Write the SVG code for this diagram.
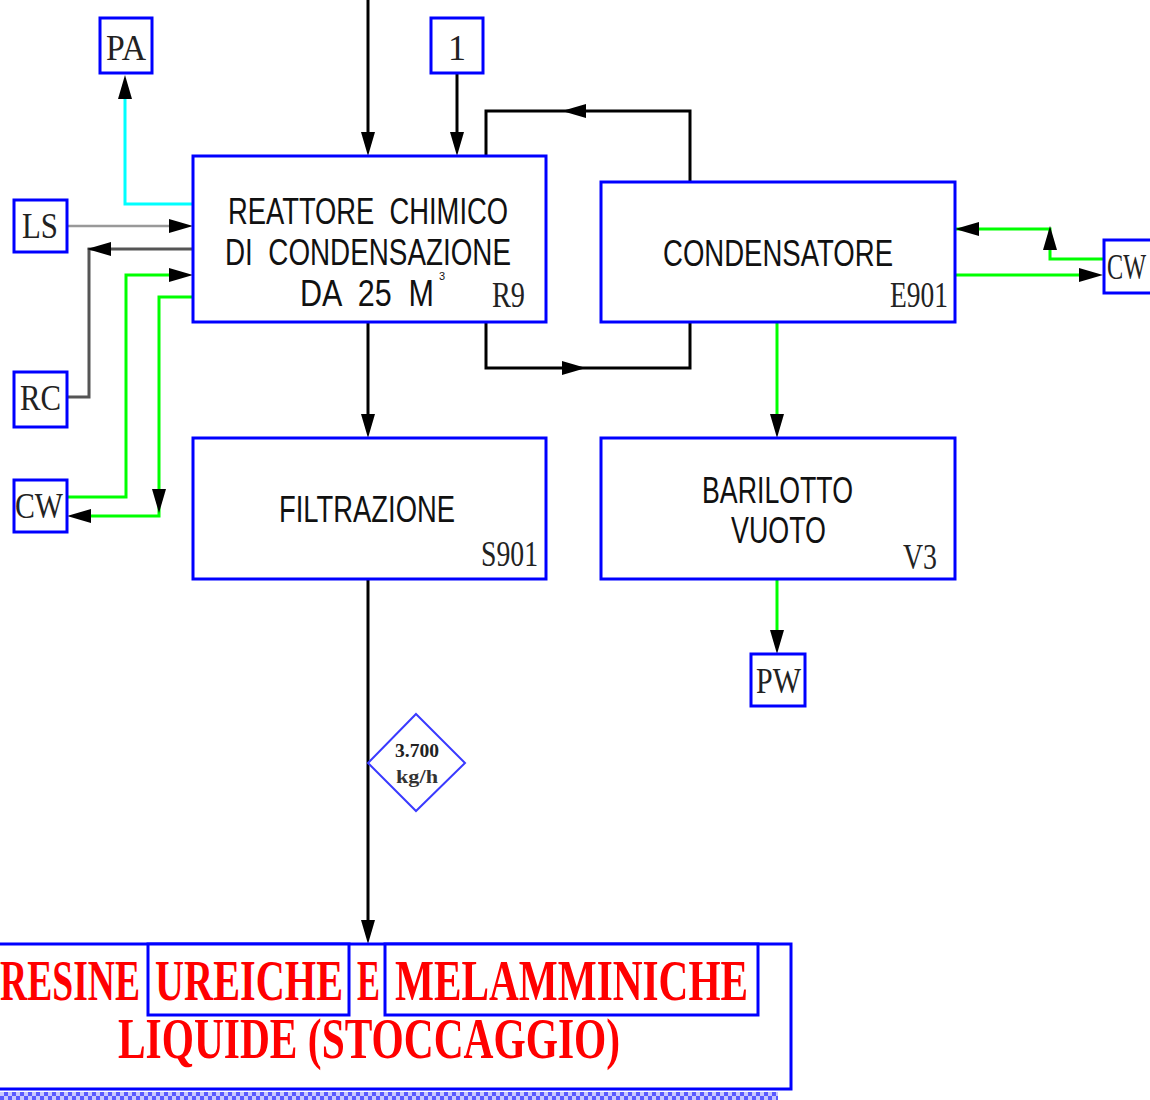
<svg xmlns="http://www.w3.org/2000/svg" width="1150" height="1100" viewBox="0 0 1150 1100">
<style>
.box{fill:#fff;stroke:#0000ff;stroke-width:3}
.lbl{font-family:"Liberation Sans",Arial,sans-serif;fill:#111;font-size:36px}
.tag{font-family:"Liberation Serif","Times New Roman",serif;fill:#222;font-size:36px}
.red{font-family:"Liberation Serif","Times New Roman",serif;fill:#ff0000;font-weight:bold;font-size:56px}
.blk{fill:none;stroke:#000;stroke-width:3}
.grn{fill:none;stroke:#00ff00;stroke-width:3}
.ah{fill:#000}
</style>
<defs>
<path id="ah" d="M0,0 L-24,-7 L-24,7 Z"/>
<pattern id="hatch" width="8" height="8" patternUnits="userSpaceOnUse">
<rect width="8" height="8" fill="#c8c8ff"/>
<rect width="4" height="4" fill="#5a5aff"/>
<rect x="4" y="4" width="4" height="4" fill="#5a5aff"/>
</pattern>
</defs>
<rect width="1150" height="1100" fill="#fff"/>

<g id="connectors">
<path d="M193,204 H125 V97" fill="none" stroke="#00ffff" stroke-width="3"/>
<path d="M67,226 H172" fill="none" stroke="#999" stroke-width="2.5"/>
<path d="M193,249 H89 V397 H67" fill="none" stroke="#555" stroke-width="3"/>
<path class="grn" d="M67,497 H126 V275 H172"/>
<path class="grn" d="M193,297 H159 V516 H90"/>
<path class="blk" d="M368,0 V134"/>
<path class="blk" d="M457,73 V134"/>
<path class="blk" d="M486,156 V111 H690 V182"/>
<path class="blk" d="M486,322 V368 H690 V322"/>
<path class="blk" d="M368,322 V416"/>
<path class="blk" d="M368,579 V922"/>
<path class="grn" d="M955,229 H1050 V259 H1103"/>
<path class="grn" d="M955,275 H1080"/>
<path class="grn" d="M777,322 V416"/>
<path class="grn" d="M777,579 V632"/>
<use href="#ah" class="ah" transform="translate(125,75) rotate(-90)"/>
<use href="#ah" class="ah" transform="translate(193,226)"/>
<use href="#ah" class="ah" transform="translate(87,249) rotate(180)"/>
<use href="#ah" class="ah" transform="translate(193,275)"/>
<use href="#ah" class="ah" transform="translate(67,516) rotate(180)"/>
<use href="#ah" class="ah" transform="translate(159,513) rotate(90)"/>
<use href="#ah" class="ah" transform="translate(368,156) rotate(90)"/>
<use href="#ah" class="ah" transform="translate(457,156) rotate(90)"/>
<use href="#ah" class="ah" transform="translate(562,111) rotate(180)"/>
<use href="#ah" class="ah" transform="translate(586,368)"/>
<use href="#ah" class="ah" transform="translate(955,229) rotate(180)"/>
<use href="#ah" class="ah" transform="translate(1050,226) rotate(-90)"/>
<use href="#ah" class="ah" transform="translate(1103,275)"/>
<use href="#ah" class="ah" transform="translate(368,438) rotate(90)"/>
<use href="#ah" class="ah" transform="translate(777,438) rotate(90)"/>
<use href="#ah" class="ah" transform="translate(777,654) rotate(90)"/>
<use href="#ah" class="ah" transform="translate(368,944) rotate(90)"/>
</g>

<g id="PA"><rect class="box" x="100" y="18" width="52" height="55"/><text class="tag" x="106" y="60" textLength="40" lengthAdjust="spacingAndGlyphs">PA</text></g>
<g id="one"><rect class="box" x="431" y="18" width="52" height="55"/><text class="tag" x="457" y="60" text-anchor="middle">1</text></g>
<g id="LS"><rect class="box" x="14" y="200" width="53" height="52"/><text class="tag" x="22" y="238" textLength="36" lengthAdjust="spacingAndGlyphs">LS</text></g>
<g id="RC"><rect class="box" x="14" y="372" width="53" height="55"/><text class="tag" x="20" y="410" textLength="41" lengthAdjust="spacingAndGlyphs">RC</text></g>
<g id="CW1"><rect class="box" x="14" y="480" width="53" height="52"/><text class="tag" x="15" y="518" textLength="48" lengthAdjust="spacingAndGlyphs">CW</text></g>
<g id="CW2"><rect class="box" x="1104" y="240" width="60" height="53"/><text class="tag" x="1107" y="279" textLength="39" lengthAdjust="spacingAndGlyphs">CW</text></g>
<g id="PW"><rect class="box" x="751" y="654" width="54" height="52"/><text class="tag" x="756" y="693" textLength="45" lengthAdjust="spacingAndGlyphs">PW</text></g>

<g id="R9">
<rect class="box" x="193" y="156" width="353" height="166"/>
<text class="lbl" x="228" y="224" textLength="280" lengthAdjust="spacingAndGlyphs" xml:space="preserve">REATTORE  CHIMICO</text>
<text class="lbl" x="225" y="265" textLength="286" lengthAdjust="spacingAndGlyphs" xml:space="preserve">DI  CONDENSAZIONE</text>
<text class="lbl" x="300" y="306" textLength="134" lengthAdjust="spacingAndGlyphs" xml:space="preserve">DA  25  M</text>
<text class="lbl" x="439" y="280" style="font-size:11px">3</text>
<text class="tag" x="492" y="307" textLength="33" lengthAdjust="spacingAndGlyphs">R9</text>
</g>

<g id="E901">
<rect class="box" x="601" y="182" width="354" height="140"/>
<text class="lbl" x="663" y="266" textLength="230" lengthAdjust="spacingAndGlyphs">CONDENSATORE</text>
<text class="tag" x="890" y="307" textLength="58" lengthAdjust="spacingAndGlyphs">E901</text>
</g>

<g id="S901">
<rect class="box" x="193" y="438" width="353" height="141"/>
<text class="lbl" x="279" y="522" textLength="176" lengthAdjust="spacingAndGlyphs">FILTRAZIONE</text>
<text class="tag" x="481" y="566" textLength="57" lengthAdjust="spacingAndGlyphs">S901</text>
</g>

<g id="V3">
<rect class="box" x="601" y="438" width="354" height="141"/>
<text class="lbl" x="702" y="503" textLength="151" lengthAdjust="spacingAndGlyphs">BARILOTTO</text>
<text class="lbl" x="731" y="543" textLength="95" lengthAdjust="spacingAndGlyphs">VUOTO</text>
<text class="tag" x="903" y="569" textLength="34" lengthAdjust="spacingAndGlyphs">V3</text>
</g>

<g id="flow">
<polygon points="416,714 465,763 416,811 368,763" fill="#fff" stroke="#3a3aff" stroke-width="2"/>
<text x="417" y="757" text-anchor="middle" style="font-family:'Liberation Serif',serif;font-size:18px;font-weight:bold;fill:#222" textLength="44" lengthAdjust="spacingAndGlyphs">3.700</text>
<text x="417" y="783" text-anchor="middle" style="font-family:'Liberation Serif',serif;font-size:18px;font-weight:bold;fill:#333" textLength="42" lengthAdjust="spacingAndGlyphs">kg/h</text>
</g>

<g id="storage">
<rect class="box" x="-10" y="944" width="801" height="145"/>
<rect class="box" x="148" y="944" width="201" height="71"/>
<rect class="box" x="385" y="944" width="373" height="71"/>
<text class="red" x="0" y="1000" textLength="140" lengthAdjust="spacingAndGlyphs">RESINE</text>
<text class="red" x="155" y="1000" textLength="188" lengthAdjust="spacingAndGlyphs">UREICHE</text>
<text class="red" x="357" y="1000" textLength="23" lengthAdjust="spacingAndGlyphs">E</text>
<text class="red" x="395" y="1000" textLength="353" lengthAdjust="spacingAndGlyphs">MELAMMINICHE</text>
<text class="red" x="118" y="1058" textLength="502" lengthAdjust="spacingAndGlyphs">LIQUIDE (STOCCAGGIO)</text>
<rect x="0" y="1092" width="778" height="8" fill="url(#hatch)"/>
</g>
</svg>
